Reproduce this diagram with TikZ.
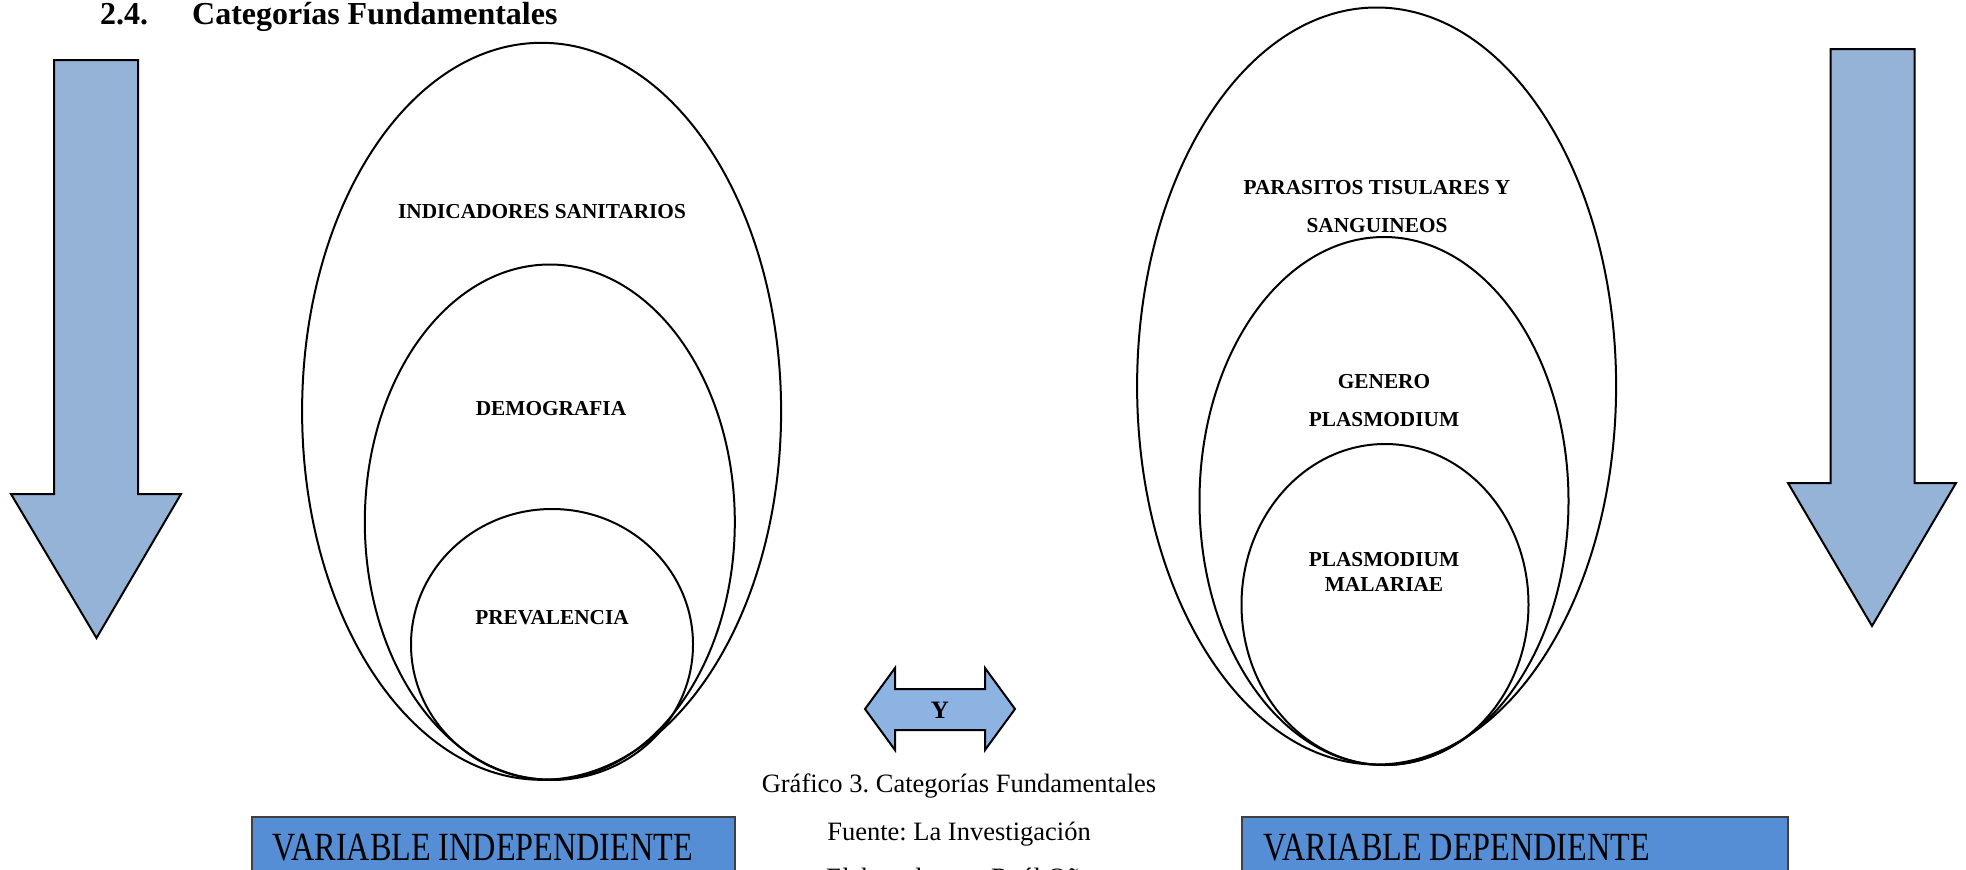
\documentclass[tikz,border=0pt]{standalone}
\usepackage{graphicx}
\usepackage{fontspec}
\setmainfont{Liberation Serif}
\usetikzlibrary{shapes.geometric,positioning}

\definecolor{arrowblue}{HTML}{95B3D7}
\definecolor{linkblue}{HTML}{8DB3E2}
\definecolor{boxblue}{HTML}{558ED5}

\tikzset{
  ring/.style={draw, ellipse, line width=2pt, inner sep=0pt, outer sep=0pt},
  lbl/.style={font=\bfseries\fontsize{21.3}{38}\selectfont, align=center, inner sep=0pt},
  tightlbl/.style={lbl, font=\bfseries\fontsize{21.3}{25}\selectfont},
  bigarrow/.style={draw, fill=arrowblue, line width=2pt, line join=miter},
  varbox/.style={draw=black!75, fill=boxblue, line width=1.6pt, inner sep=0pt, anchor=north west},
  vartext/.style={font=\fontsize{40}{44}\selectfont, inner sep=0pt, anchor=base west},
  capt/.style={font=\frenchspacing\fontsize{26.5}{30}\selectfont, inner sep=0pt, anchor=base},
  sectfont/.style={font=\bfseries\fontsize{32}{36}\selectfont, inner sep=0pt, anchor=base west}
}

\begin{document}
\begin{tikzpicture}[x=1pt,y=-1pt]
\useasboundingbox (0,0) rectangle (1966,870);

% heading
\node[sectfont] (secnum) at (100,24) {2.4.};
\node[sectfont] (secname) at (192,24) {Categorías Fundamentales};

% side arrows
\draw[bigarrow] (54,60) -- (138,60) -- (138,494) -- (181,494) -- (96.5,638)
  -- (11,494) -- (54,494) -- cycle;
\draw[bigarrow] (1830.5,49) -- (1914.5,49) -- (1914.5,483) -- (1956,483) -- (1872,626)
  -- (1788,483) -- (1830.5,483) -- cycle;

% independent variable
\node[ring, minimum width=479pt, minimum height=737pt] (indic) at (541.6,411.3) {};
\node[ring, minimum width=370pt, minimum height=515pt] (demog) at (549.8,522) {};
\node[ring, minimum width=282pt, minimum height=271pt] (preval) at (552,644.5) {};
\node[lbl] (indiclbl) at (542,212) {INDICADORES SANITARIOS};
\node[lbl] (demoglbl) at (551,409) {DEMOGRAFIA};
\node[lbl] (prevallbl) at (552,618) {PREVALENCIA};

% dependent variable
\node[ring, minimum width=479pt, minimum height=757pt] (parasit) at (1376.6,386) {};
\node[ring, minimum width=369pt, minimum height=528pt] (genero) at (1384,501) {};
\node[ring, minimum width=287pt, minimum height=321pt] (malariae) at (1385,604.5) {};
\node[lbl] (parasitlbl) at (1377,207) {PARASITOS TISULARES Y\\SANGUINEOS};
\node[lbl] (generolbl) at (1384,401) {GENERO\\PLASMODIUM};
\node[tightlbl] (malariaelbl) at (1384,571.5) {PLASMODIUM\\MALARIAE};

% link arrow
\draw[bigarrow, fill=linkblue] (865,709) -- (895,668) -- (895,689) -- (985,689) -- (985,668)
  -- (1015,709) -- (985,750) -- (985,730) -- (895,730) -- (895,750) -- cycle;
\node[lbl, font=\bfseries\fontsize{25}{28}\selectfont] (ylbl) at (940,710) {Y};

% caption
\node[capt] (capt1) at (959,792) {Gráfico 3. Categorías Fundamentales};
\node[capt] (capt2) at (959,840) {Fuente: La Investigación};
\node[capt] (capt3) at (959,886) {Elaborado por: Raúl Oña};

% variable boxes
\node[varbox, minimum width=483pt, minimum height=90pt] (vindep) at (251,816) {};
\node[vartext] (vindeptxt) at ([xshift=21pt,yshift=-44pt]vindep.north west)
  {\scalebox{0.805}[1]{VARIABLE INDEPENDIENTE}};
\node[varbox, minimum width=546pt, minimum height=90pt] (vdep) at (1241,816) {};
\node[vartext] (vdeptxt) at ([xshift=22pt,yshift=-44pt]vdep.north west)
  {\scalebox{0.805}[1]{VARIABLE DEPENDIENTE}};
\end{tikzpicture}
\end{document}
